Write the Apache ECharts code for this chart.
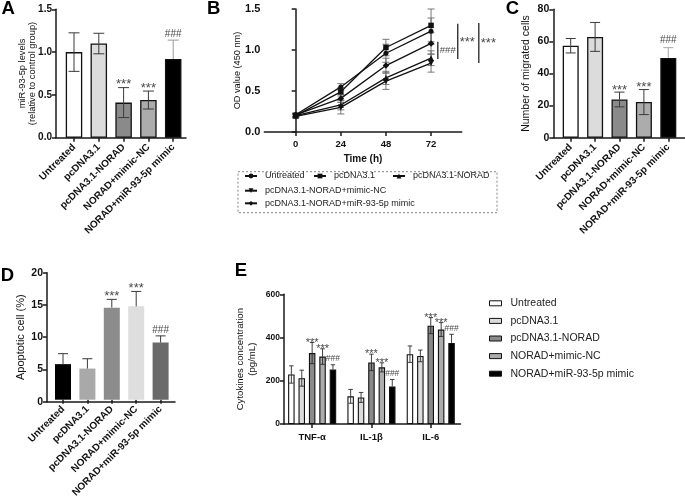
<!DOCTYPE html>
<html><head><meta charset="utf-8">
<script src="https://cdn.jsdelivr.net/npm/echarts/dist/echarts.min.js"></script>
<style>html,body{margin:0;padding:0;background:#fff}#c{width:685px;height:500px}</style>
</head><body><div id="c"></div>
<script>
// ---------------- data ----------------
const groups = ['Untreated', 'pcDNA3.1', 'pcDNA3.1-NORAD', 'NORAD+mimic-NC', 'NORAD+miR-93-5p mimic'];

// A: miR-93-5p levels
const mirMean = [1.00, 1.10, 0.41, 0.44, 0.92];
const mirSD   = [0.225, 0.12, 0.175, 0.105, 0.22];
const mirSig  = ['', '', '***', '***', '###'];

// B: OD value over time
const timeH = [0, 24, 48, 72];
const odLabels = ['Untreated', 'pcDNA3.1', 'pcDNA3.1-NORAD', 'pcDNA3.1-NORAD+mimic-NC', 'pcDNA3.1-NORAD+miR-93-5p mimic'];
const odUntreated = [0.21, 0.55, 0.96, 1.23];
const odUntreatedSD = [0.02, 0.04, 0.11, 0.16];
const odPc = [0.20, 0.49, 1.03, 1.30];
const odPcSD = [0.02, 0.05, 0.10, 0.20];
const odNorad = [0.20, 0.33, 0.66, 0.90];
const odNoradSD = [0.02, 0.06, 0.08, 0.09];
const odNC = [0.19, 0.30, 0.62, 0.84];
const odNCSD = [0.02, 0.08, 0.10, 0.11];
const odMimic = [0.21, 0.41, 0.81, 1.08];
const odMimicSD = [0.02, 0.05, 0.09, 0.13];
const odSigX  = [75.6, 86.2, 97.4];
const odSigLo = [0.89, 0.89, 0.84];
const odSigHi = [1.10, 1.32, 1.33];
const odSigText = ['###', '***', '***'];

// C: migrated cells
const migMean = [57.3, 62.8, 23.8, 22.2, 49.7];
const migSD   = [4.5, 9.0, 4.6, 7.8, 6.4];
const migSig  = ['', '', '***', '***', '###'];

// D: apoptotic cells
const apoMean = [5.6, 4.9, 14.5, 14.7, 9.0];
const apoSD   = [1.65, 1.55, 1.3, 2.35, 1.05];
const apoSig  = ['', '', '***', '***', '###'];

// E: cytokines
const cytokines = ['TNF-α', 'IL-1β', 'IL-6'];
const cytoUntreated = [229, 128, 323];
const cytoUntreatedSD = [40, 32, 38];
const cytoPc = [212, 123, 315];
const cytoPcSD = [37, 23, 27];
const cytoNorad = [328, 285, 455];
const cytoNoradSD = [49, 38, 37];
const cytoNC = [312, 262, 437];
const cytoNCSD = [36, 21, 32];
const cytoMimic = [252, 174, 375];
const cytoMimicSD = [22, 32, 40];
const cytoSig = ['', '', '***', '***', '###'];

// ---------------- styles ----------------
const F = '"Liberation Sans", Arial, Helvetica, sans-serif';
const AX = '#1a1a1a';
const barColorsACE = ['#ffffff', '#dcdcdc', '#8a8a8a', '#acacac', '#000000'];
const barColorsD = ['#000000', '#a9a9a9', '#8c8c8c', '#dedede', '#6a6a6a'];

const grid = [], xAxis = [], yAxis = [], series = [], legend = [], graphic = [];

function makeErr(o) {
  return function (params, api) {
    const i = params.dataIndex;
    const x = api.value(0), m = api.value(1), s = api.value(2);
    const c = api.coord([x, m]), t = api.coord([x, m + s]), b = api.coord([x, m - s]);
    const cx = c[0] + (o.offset || 0);
    const col = typeof o.color === 'function' ? o.color(i) : o.color;
    const lw = o.lw || 1, hw = o.cap / 2;
    const ch = [
      { type: 'line', shape: { x1: cx, y1: t[1], x2: cx, y2: c[1] }, style: { stroke: col, lineWidth: lw } },
      { type: 'line', shape: { x1: cx - hw, y1: t[1], x2: cx + hw, y2: t[1] }, style: { stroke: col, lineWidth: lw } }
    ];
    if (o.lower && o.lower(i)) {
      ch.push({ type: 'line', shape: { x1: cx, y1: c[1], x2: cx, y2: b[1] }, style: { stroke: col, lineWidth: lw } });
      ch.push({ type: 'line', shape: { x1: cx - hw, y1: b[1], x2: cx + hw, y2: b[1] }, style: { stroke: col, lineWidth: lw } });
    }
    const sg = o.sig ? o.sig(i) : '';
    if (sg) {
      const star = sg.charAt(0) === '*';
      const fs = star ? o.starSize : o.hashSize;
      ch.push({ type: 'text', style: {
        text: sg, x: cx, y: star ? t[1] - o.starDy + 0.22 * fs : t[1] - o.hashDy,
        align: 'center', verticalAlign: 'middle', fontSize: fs, fontFamily: F, fill: o.sigColor || '#555'
      } });
    }
    return { type: 'group', children: ch };
  };
}

function addBarPanel(p) {
  // frame grid: y axis + x axis line
  const fi = grid.length;
  grid.push({ left: p.axisX, top: p.top, width: p.endX - p.axisX, height: p.bottom - p.top });
  xAxis.push({ gridIndex: fi, type: 'value', min: 0, max: 1,
    axisLine: { show: true, onZero: false, lineStyle: { color: AX, width: 1.5 } },
    axisTick: { show: false }, axisLabel: { show: false }, splitLine: { show: false } });
  yAxis.push({ gridIndex: fi, type: 'value', min: p.yMin, max: p.yMax, interval: p.yInt,
    axisLine: { show: true, lineStyle: { color: AX, width: 1.5 } },
    axisTick: { show: true, length: 4, lineStyle: { color: AX, width: 1.5 } },
    axisLabel: { fontFamily: F, fontSize: p.tickSize, fontWeight: 'bold', color: '#111', margin: 4, formatter: p.fmt },
    splitLine: { show: false },
    name: p.yName, nameLocation: 'middle', nameGap: p.nameGap, nameMoveOverlap: false,
    nameTextStyle: { fontFamily: F, fontSize: p.nameSize, color: '#111', lineHeight: p.nameLH || p.nameSize * 1.15 } });
  // data grid
  const gi = grid.length;
  grid.push({ left: p.bandStart, top: p.top, width: p.band * p.cats.length, height: p.bottom - p.top });
  xAxis.push({ gridIndex: gi, type: 'category', data: p.cats,
    axisLine: { show: false },
    axisTick: { show: true, alignWithLabel: true, length: 4, lineStyle: { color: AX, width: 1.5 } },
    axisLabel: { rotate: p.rotate || 0, interval: 0, fontFamily: F, fontSize: p.catSize, fontWeight: 'bold', color: '#111', margin: p.catMargin } });
  yAxis.push({ gridIndex: gi, type: 'value', min: p.yMin, max: p.yMax, show: false });
  return gi;
}

function singleBars(gi, means, sds, sigs, colors, o) {
  series.push({ type: 'bar', xAxisIndex: gi, yAxisIndex: gi, barWidth: o.barW, silent: true,
    data: means.map((v, i) => ({ value: v, itemStyle: {
      color: colors[i], borderColor: o.border ? '#111' : colors[i], borderWidth: o.border ? 1.3 : 0 } })) });
  series.push({ type: 'custom', xAxisIndex: gi, yAxisIndex: gi, z: 5, silent: true, clip: false,
    data: means.map((v, i) => [i, v, sds[i]]),
    renderItem: makeErr({ cap: o.cap, color: o.errColor, lower: o.lower, sig: i => sigs[i],
      starSize: o.starSize, hashSize: o.hashSize, starDy: o.starDy, hashDy: o.hashDy, sigColor: '#4a4a4a' }) });
}

// ---------- Panel A ----------
const gA = addBarPanel({ axisX: 56, endX: 186, top: 9.3, bottom: 137.7, bandStart: 61.6, band: 24.8, cats: groups,
  yMin: 0, yMax: 1.5, yInt: 0.5, fmt: v => v.toFixed(1), tickSize: 10,
  yName: 'miR-93-5p levels\n(relative to control group)', nameGap: 18, nameSize: 9.3, nameLH: 10.5,
  rotate: 45, catSize: 10, catMargin: 8 });
singleBars(gA, mirMean, mirSD, mirSig, barColorsACE, { barW: 16.5, border: true, cap: 11,
  errColor: i => (i === 4 ? '#9a9a9a' : '#3a3a3a'), lower: i => i !== 4,
  starSize: 13, hashSize: 10, starDy: 5.6, hashDy: 6 });

// ---------- Panel C ----------
const gC = addBarPanel({ axisX: 553.3, endX: 685, top: 9.3, bottom: 137.7, bandStart: 558.5, band: 24.4, cats: groups,
  yMin: 0, yMax: 80, yInt: 20, tickSize: 10.5,
  yName: 'Number of migrated cells', nameGap: 21, nameSize: 10.5,
  rotate: 45, catSize: 10, catMargin: 8 });
singleBars(gC, migMean, migSD, migSig, barColorsACE, { barW: 16, border: true, cap: 10,
  errColor: i => (i === 4 ? '#a8a8a8' : '#3a3a3a'), lower: i => i !== 4,
  starSize: 13, hashSize: 10, starDy: 5, hashDy: 7 });

// ---------- Panel D ----------
const gD = addBarPanel({ axisX: 47, endX: 175, top: 272.7, bottom: 401.7, bandStart: 50.8, band: 24.4, cats: groups,
  yMin: 0, yMax: 20, yInt: 5, tickSize: 10.5,
  yName: 'Apoptotic cell (%)', nameGap: 20, nameSize: 11,
  rotate: 45, catSize: 10, catMargin: 8 });
singleBars(gD, apoMean, apoSD, apoSig, barColorsD, { barW: 16, border: false, cap: 10,
  errColor: '#3a3a3a', lower: () => false,
  starSize: 13, hashSize: 10, starDy: 6.3, hashDy: 6 });

// ---------- Panel E ----------
const gE = addBarPanel({ axisX: 284, endX: 460.5, top: 294.3, bottom: 424, bandStart: 282.5, band: 59.3, cats: cytokines,
  yMin: 0, yMax: 600, yInt: 200, tickSize: 8.5,
  yName: 'Cytokines concentration\n(pg/mL)', nameGap: 26, nameSize: 9.6, nameLH: 11.7,
  rotate: 0, catSize: 9.5, catMargin: 8 });
const cytoMeans = [cytoUntreated, cytoPc, cytoNorad, cytoNC, cytoMimic];
const cytoSDs = [cytoUntreatedSD, cytoPcSD, cytoNoradSD, cytoNCSD, cytoMimicSD];
const eBarW = 6.5, eGap = 3.9;
cytoMeans.forEach((arr, k) => {
  series.push({ type: 'bar', name: 'E:' + groups[k], xAxisIndex: gE, yAxisIndex: gE, barWidth: eBarW, barGap: '60%', silent: true,
    itemStyle: { color: barColorsACE[k], borderColor: '#111', borderWidth: 1.1 }, data: arr });
  series.push({ type: 'custom', xAxisIndex: gE, yAxisIndex: gE, z: 5, silent: true, clip: false,
    data: arr.map((v, i) => [i, v, cytoSDs[k][i]]),
    renderItem: makeErr({ cap: 4.5, color: '#2a2a2a', offset: (k - 2) * (eBarW + eGap), lower: () => k !== 4,
      sig: () => cytoSig[k], starSize: 11, hashSize: 8.5, starDy: 2.3, hashDy: 5.7, sigColor: '#4a4a4a', lw: 0.9 }) });
});
legend.push({ orient: 'vertical', left: 489, top: 297.3, padding: 0, itemWidth: 12, itemHeight: 5, itemGap: 5.6,
  icon: 'rect', selectedMode: false, data: groups.map(g => 'E:' + g), formatter: n => n.slice(2),
  itemStyle: { borderWidth: 1 },
  textStyle: { fontFamily: F, fontSize: 10.5, color: '#222', lineHeight: 12, padding: [0, 0, 0, 4] } });

// ---------- Panel B ----------
const gB = grid.length;
grid.push({ left: 264.3, top: 9, width: 197.4, height: 123 });
xAxis.push({ gridIndex: gB, type: 'value', min: -16.7, max: 88.3,
  axisLine: { show: true, onZero: false, lineStyle: { color: AX, width: 1.5 } },
  axisTick: { show: true, length: 4, customValues: timeH, lineStyle: { color: AX, width: 1.5 } },
  axisLabel: { customValues: timeH, fontFamily: F, fontSize: 9.5, fontWeight: 'bold', color: '#111', margin: 7 },
  splitLine: { show: false },
  name: 'Time (h)', nameLocation: 'middle', nameGap: 22, nameMoveOverlap: false,
  nameTextStyle: { fontFamily: F, fontSize: 10, fontWeight: 'bold', color: '#111' } });
yAxis.push({ gridIndex: gB, type: 'value', min: 0, max: 1.5, interval: 0.5,
  axisLine: { show: true, lineStyle: { color: AX, width: 1.5 } },
  axisTick: { show: true, length: 4, lineStyle: { color: AX, width: 1.5 } },
  axisLabel: { fontFamily: F, fontSize: 11, fontWeight: 'bold', color: '#111', margin: 4, formatter: v => v.toFixed(1) },
  splitLine: { show: false },
  name: 'OD value (450 nm)', nameLocation: 'middle', nameGap: 22, nameMoveOverlap: false,
  nameTextStyle: { fontFamily: F, fontSize: 9.2, color: '#111' } });

const odSeries = [
  { vals: odUntreated, sd: odUntreatedSD, symbol: 'circle', size: 5, rot: 0 },
  { vals: odPc, sd: odPcSD, symbol: 'rect', size: 5.5, rot: 0 },
  { vals: odNorad, sd: odNoradSD, symbol: 'triangle', size: 6, rot: 0 },
  { vals: odNC, sd: odNCSD, symbol: 'triangle', size: 6, rot: 180 },
  { vals: odMimic, sd: odMimicSD, symbol: 'diamond', size: 6.5, rot: 0 }
];
odSeries.forEach((s, k) => {
  series.push({ type: 'custom', xAxisIndex: gB, yAxisIndex: gB, z: 1, silent: true, clip: false,
    data: timeH.map((t, i) => [t, s.vals[i], s.sd[i]]),
    renderItem: makeErr({ cap: 7, color: '#6a6a6a', lower: () => true, lw: 0.9 }) });
  series.push({ type: 'line', name: odLabels[k], xAxisIndex: gB, yAxisIndex: gB, z: 3, silent: true,
    data: timeH.map((t, i) => [t, s.vals[i]]), symbol: s.symbol, symbolSize: s.size, symbolRotate: s.rot,
    lineStyle: { color: '#111', width: 1.3 }, itemStyle: { color: '#111' } });
});
// significance brackets in B
series.push({ type: 'custom', xAxisIndex: gB, yAxisIndex: gB, z: 4, silent: true, clip: false,
  data: odSigX.map((x, i) => [x, odSigLo[i], odSigHi[i]]),
  renderItem: function (params, api) {
    const i = params.dataIndex;
    const a = api.coord([api.value(0), api.value(1)]), b = api.coord([api.value(0), api.value(2)]);
    const star = odSigText[i].charAt(0) === '*';
    const fs = star ? 13 : 9.5;
    const my = (a[1] + b[1]) / 2;
    return { type: 'group', children: [
      { type: 'line', shape: { x1: a[0], y1: a[1], x2: b[0], y2: b[1] }, style: { stroke: '#222', lineWidth: 1.3 } },
      { type: 'text', style: { text: odSigText[i], x: a[0] + 2, y: star ? my - 2 + 0.22 * fs : my, align: 'left', verticalAlign: 'middle',
        fontSize: fs, fontFamily: F, fill: '#4a4a4a' } }
    ] };
  } });

// B legend (dashed box with rows)
const legRows = [
  { names: [odLabels[0]], left: 244, top: 171.5 },
  { names: [odLabels[1]], left: 313, top: 171.5 },
  { names: [odLabels[2]], left: 392, top: 171.5 },
  { names: [odLabels[3]], left: 244, top: 186.2 },
  { names: [odLabels[4]], left: 244, top: 198.8 }
];
legRows.forEach(r => legend.push({ data: r.names, left: r.left, top: r.top, padding: 0, itemWidth: 12, itemHeight: 6,
  selectedMode: false, textStyle: { fontFamily: F, fontSize: 9, color: '#222', padding: [0, 0, 0, 3] } }));
graphic.push({ type: 'rect', shape: { x: 238, y: 171.7, width: 259, height: 41 },
  style: { fill: 'none', stroke: '#666', lineWidth: 0.8, lineDash: [2, 2] }, silent: true });

// panel letters
[['A', 8.3, 8.5], ['B', 213.7, 8.5], ['C', 512.5, 9.2], ['D', 7.5, 275.8], ['E', 241, 271]].forEach(l => {
  graphic.push({ type: 'text', silent: true, style: { text: l[0], x: l[1], y: l[2], align: 'center', verticalAlign: 'middle',
    fontSize: 18.5, fontWeight: 'bold', fontFamily: F, fill: '#000' } });
});

const chart = echarts.init(document.getElementById('c'), null, { renderer: 'canvas' });
chart.setOption({ animation: false, backgroundColor: '#fff', grid, xAxis, yAxis, series, legend, graphic,
  textStyle: { fontFamily: F } });
</script>
</body></html>
